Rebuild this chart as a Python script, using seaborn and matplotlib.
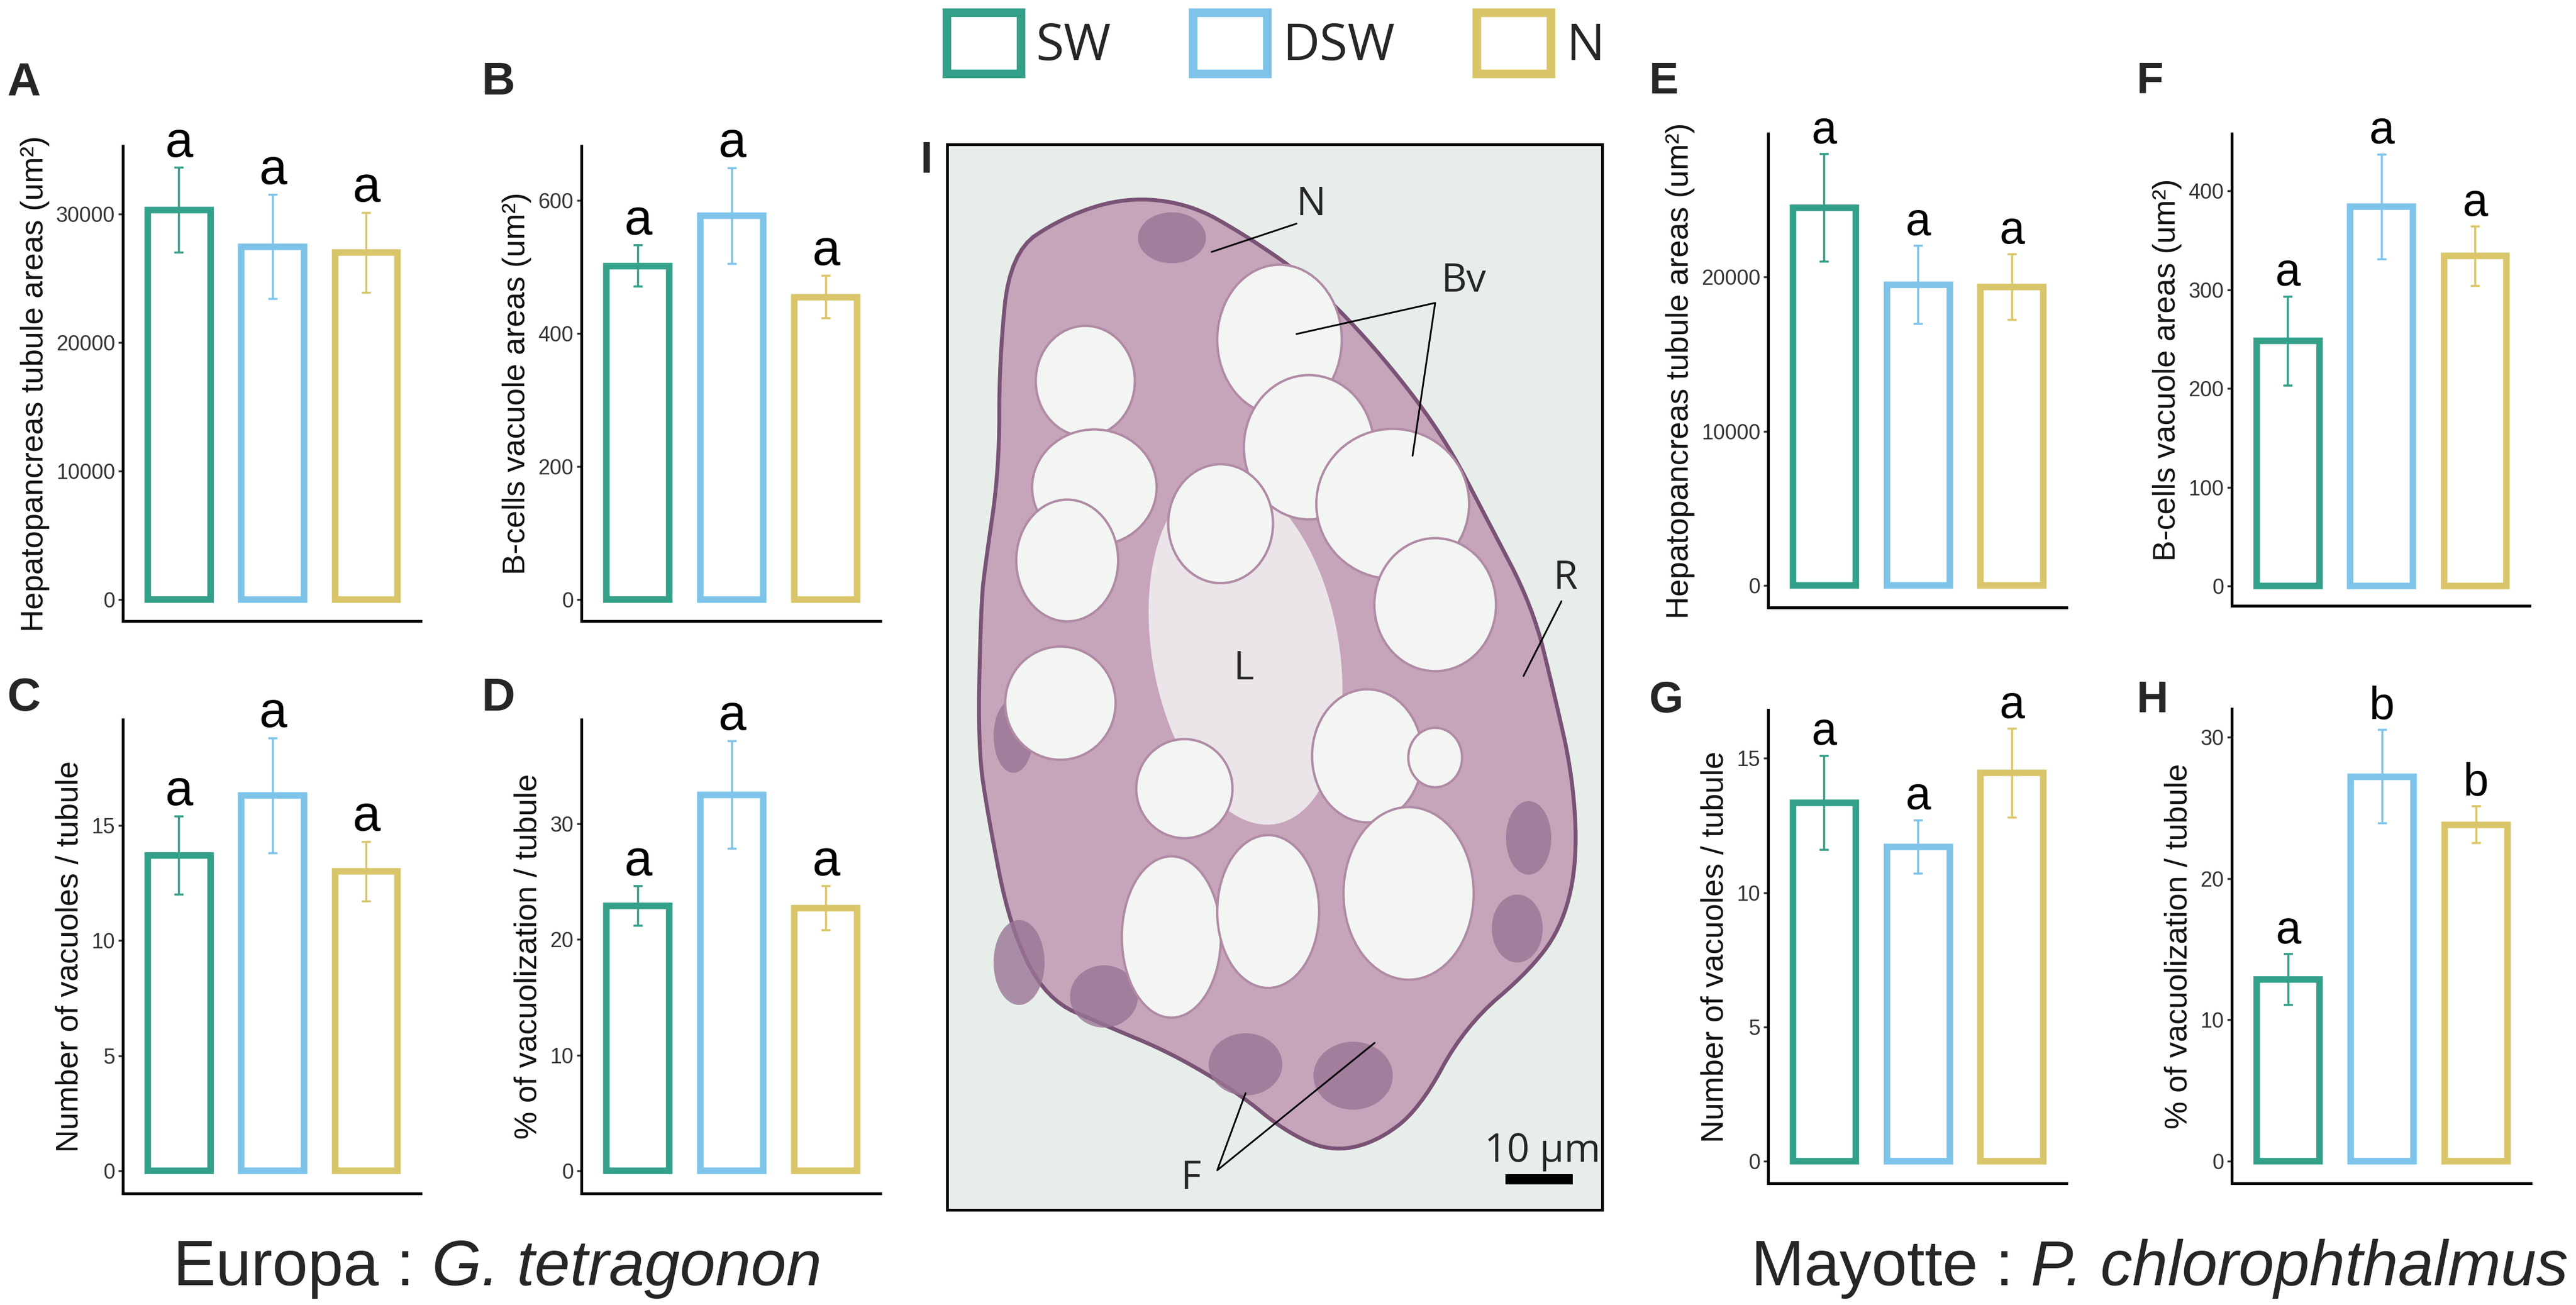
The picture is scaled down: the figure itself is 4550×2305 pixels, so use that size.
import matplotlib
matplotlib.use("Agg")
import matplotlib.pyplot as plt
from matplotlib.patches import Patch, Polygon, Ellipse
import seaborn as sns
import numpy as np
import pandas as pd

sns.set_theme(style="ticks")
plt.rcParams['font.family'] = ['Liberation Sans', 'DejaVu Sans']

W, H = 4550, 2305

# groups and colours
groups = ['SW', 'DSW', 'N']
palette = {'SW': '#33a089', 'DSW': '#7ec4ea', 'N': '#d9c66a'}

# Europa : G. tetragonon  (means and standard errors)
mean_A = [30300, 27450, 27000]
sem_A = [3300, 4050, 3100]
mean_B = [502, 577, 455]
sem_B = [31, 72, 32]
mean_C = [13.7, 16.3, 13.0]
sem_C = [1.7, 2.5, 1.3]
mean_D = [22.9, 32.5, 22.7]
sem_D = [1.7, 4.65, 1.9]

# Mayotte : P. chlorophthalmus
mean_E = [24500, 19500, 19350]
sem_E = [3475, 2530, 2120]
mean_F = [248, 384, 334]
sem_F = [45, 53, 30]
mean_G = [13.35, 11.7, 14.45]
sem_G = [1.75, 1.0, 1.65]
mean_H = [12.85, 27.2, 23.8]
sem_H = [1.8, 3.3, 1.3]

letters_A = ['a', 'a', 'a']
letters_B = ['a', 'a', 'a']
letters_C = ['a', 'a', 'a']
letters_D = ['a', 'a', 'a']
letters_E = ['a', 'a', 'a']
letters_F = ['a', 'a', 'a']
letters_G = ['a', 'a', 'a']
letters_H = ['a', 'b', 'b']

lab_area = 'Hepatopancreas tubule areas (um²)'
lab_bcell = 'B-cells vacuole areas (um²)'
lab_nvac = 'Number of vacuoles / tubule'
lab_pvac = '% of vacuolization / tubule'

fig = plt.figure(figsize=(W / 100, H / 100), dpi=100)


def px_axes(x0, y0, x1, y1):
    return fig.add_axes([x0 / W, 1 - y1 / H, (x1 - x0) / W, (y1 - y0) / H])


def draw_panel(rect, means, sems, letters, ylabel, ylim, yticks, letter_size):
    ax = px_axes(*rect)
    df = pd.DataFrame({'group': groups, 'value': means})
    sns.barplot(data=df, x='group', y='value', hue='group', order=groups,
                hue_order=groups, palette=palette, fill=False, linewidth=8.3,
                width=0.67, errorbar=None, legend=False, ax=ax)
    for i, g in enumerate(groups):
        ax.errorbar(i, means[i], yerr=sems[i], fmt='none', ecolor=palette[g],
                    elinewidth=2.6, capsize=5.5, capthick=2.6, zorder=5)
        ax.annotate(letters[i], (i, means[i] + sems[i]), xytext=(0, 14),
                    textcoords='offset points', ha='center', va='baseline',
                    fontsize=letter_size, color='black')
    ax.set_xlim(-0.6, 2.58)
    ax.set_ylim(ylim)
    ax.set_yticks(yticks)
    ax.set_xticks([])
    ax.set_xlabel('')
    ax.set_ylabel(ylabel, fontsize=40, labelpad=8, color='#111111')
    ax.tick_params(axis='y', labelsize=27, length=6, width=2.5, pad=4,
                   colors='#333333')
    sns.despine(ax=ax)
    for s in ['left', 'bottom']:
        ax.spines[s].set_linewidth(3.6)
        ax.spines[s].set_color('black')
    ax.set_facecolor('none')
    return ax


draw_panel((217, 258, 743, 1097), mean_A, sem_A, letters_A, lab_area,
           (-1670, 35290), [0, 10000, 20000, 30000], 64)
draw_panel((1027, 258, 1555, 1097), mean_B, sem_B, letters_B, lab_bcell,
           (-32, 682), [0, 200, 400, 600], 64)
draw_panel((217, 1271, 743, 2108), mean_C, sem_C, letters_C, lab_nvac,
           (-0.98, 19.6), [0, 5, 10, 15], 64)
draw_panel((1027, 1271, 1555, 2108), mean_D, sem_D, letters_D, lab_pvac,
           (-1.95, 39.0), [0, 10, 20, 30], 64)
draw_panel((3123, 236, 3650, 1073), mean_E, sem_E, letters_E, lab_area,
           (-1413, 29300), [0, 10000, 20000], 58)
draw_panel((3942, 236, 4468, 1070), mean_F, sem_F, letters_F, lab_bcell,
           (-20, 458), [0, 100, 200, 300, 400], 58)
draw_panel((3123, 1254, 3650, 2090), mean_G, sem_G, letters_G, lab_nvac,
           (-0.82, 16.8), [0, 5, 10, 15], 58)
draw_panel((3942, 1252, 4470, 2090), mean_H, sem_H, letters_H, lab_pvac,
           (-1.56, 32.0), [0, 10, 20, 30], 58)

# panel letters
for lab, x, y, fs in [('A', 13, 167, 59), ('B', 851, 167, 59),
                      ('C', 13, 1255, 59), ('D', 851, 1255, 59),
                      ('E', 2913, 165, 56), ('F', 3774, 165, 56),
                      ('G', 2913, 1258, 56), ('H', 3774, 1258, 56),
                      ('I', 1626, 305, 56)]:
    fig.text(x / W, 1 - y / H, lab, fontsize=fs, fontweight='bold',
             ha='left', va='baseline')

# micrograph panel I (drawn schematically)
axi = px_axes(1673, 255, 2830, 2137)
axi.set_xlim(1673, 2830)
axi.set_ylim(2137, 255)
axi.set_facecolor('#e7eeea')
axi.set_xticks([])
axi.set_yticks([])
for s in axi.spines.values():
    s.set_linewidth(3.6)
    s.set_color('black')

outline = np.array([(1784, 446), (1878, 383), (1989, 348), (2101, 360),
                    (2196, 413), (2308, 490), (2428, 612), (2547, 765),
                    (2627, 918), (2707, 1071), (2745, 1224), (2778, 1371),
                    (2786, 1518), (2762, 1629), (2707, 1710), (2587, 1813),
                    (2507, 1960), (2428, 2019), (2348, 2034), (2268, 1997),
                    (2188, 1931), (2069, 1860), (1949, 1810), (1848, 1765),
                    (1784, 1638), (1746, 1446), (1727, 1319), (1733, 1064),
                    (1740, 1000), (1765, 829), (1765, 638)], dtype=float)
# Chaikin corner cutting to round the outline
for _ in range(3):
    nxt = np.roll(outline, -1, axis=0)
    outline = np.column_stack([0.75 * outline + 0.25 * nxt,
                               0.25 * outline + 0.75 * nxt]).reshape(-1, 2)
axi.add_patch(Polygon(outline, closed=True, facecolor='#c6a5bb',
                      edgecolor='#7a5275', lw=5, zorder=1))
axi.add_patch(Ellipse((2200, 1150), 330, 620, angle=-10, facecolor='#ebe4e8',
                      edgecolor='none', zorder=2))
vacuoles = [(2260, 600, 220, 265), (2312, 790, 230, 255), (2460, 890, 270, 265),
            (2535, 1068, 215, 235), (1917, 673, 175, 195), (1933, 861, 220, 205),
            (1885, 990, 180, 215), (2156, 925, 185, 210), (1873, 1242, 195, 200),
            (2092, 1393, 170, 175), (2069, 1655, 175, 285), (2240, 1610, 180, 270),
            (2415, 1335, 195, 235), (2488, 1578, 230, 305), (2535, 1338, 95, 105)]
for cx, cy, w, h in vacuoles:
    axi.add_patch(Ellipse((cx, cy), w, h, facecolor='#f2f5f2',
                          edgecolor='#b08aa5', lw=3, zorder=3))
# darker cells along the basal rim
cells = [(1790, 1300, 70, 130), (1800, 1700, 90, 150), (1950, 1760, 120, 110),
         (2200, 1880, 130, 110), (2390, 1900, 140, 120), (2700, 1480, 80, 130),
         (2680, 1640, 90, 120), (2070, 420, 120, 90)]
for cx, cy, w, h in cells:
    axi.add_patch(Ellipse((cx, cy), w, h, facecolor='#9a7595',
                          edgecolor='none', alpha=0.8, zorder=2))

ann_font = dict(fontsize=50, family=['Open Sans', 'DejaVu Sans'], zorder=6)
axi.text(2315, 380, 'N', ha='center', va='baseline', **ann_font)
axi.plot([2290, 2140], [395, 445], color='black', lw=2.2, zorder=6)
axi.text(2585, 515, 'Bv', ha='center', va='baseline', **ann_font)
axi.plot([2290, 2535, 2495], [590, 535, 805], color='black', lw=2.2, zorder=6)
axi.text(2765, 1040, 'R', ha='center', va='baseline', **ann_font)
axi.plot([2758, 2691], [1062, 1194], color='black', lw=2.2, zorder=6)
axi.text(2196, 1200, 'L', ha='center', va='baseline', **ann_font)
axi.text(2103, 2100, 'F', ha='center', va='baseline', **ann_font)
axi.plot([2200, 2150, 2428], [1931, 2067, 1842], color='black', lw=2.2, zorder=6)
axi.text(2725, 2052, '10 µm', ha='center', va='baseline', **ann_font)
axi.plot([2659, 2778], [2083, 2083], color='black', lw=13,
         solid_capstyle='butt', zorder=6)

# legend
handles = [Patch(facecolor='white', edgecolor=palette[g], lw=11, label=g)
           for g in groups]
fig.legend(handles=handles, loc='center', ncol=3,
           bbox_to_anchor=(2253 / W, 1 - 76 / H), frameon=False,
           prop={'family': 'Open Sans', 'size': 65}, handlelength=1.45,
           handleheight=1.45, handletextpad=0.3, columnspacing=1.6,
           borderpad=0, borderaxespad=0)

# site titles with italic species names
fig.canvas.draw()
renderer = fig.canvas.get_renderer()
for x0, site, species in [(306, 'Europa : ', 'G. tetragonon'),
                          (3093, 'Mayotte : ', 'P. chlorophthalmus')]:
    t = fig.text(x0 / W, 1 - 2270 / H, site, fontsize=81, ha='left',
                 va='baseline')
    bb = t.get_window_extent(renderer=renderer)
    fig.text(bb.x1 / W, 1 - 2270 / H, species, fontsize=81, style='italic',
             ha='left', va='baseline')

plt.savefig('out.png', dpi=100)
